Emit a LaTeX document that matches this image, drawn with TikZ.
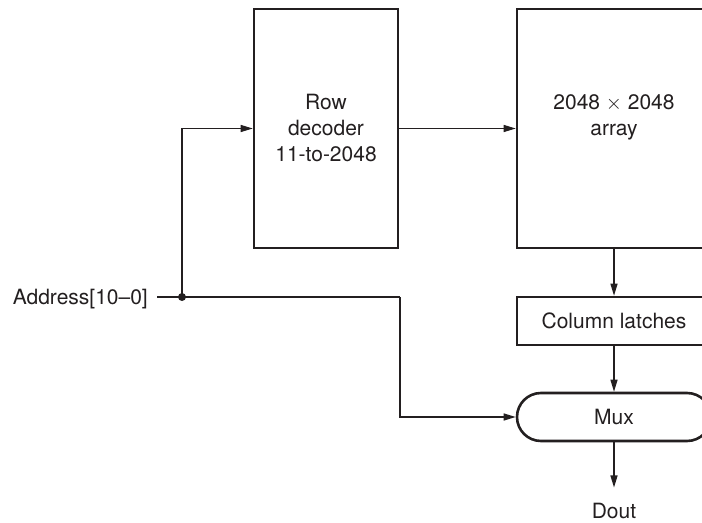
\documentclass[tikz,border=0pt]{standalone}
\usepackage{fontspec}
\setmainfont{TeX Gyre Heros}
\usetikzlibrary{arrows.meta}
\definecolor{ink}{RGB}{35,31,32}
\tikzset{
  blk/.style={draw=ink, line width=2.6bp, text=ink, align=center, inner sep=0pt,
    font=\fontsize{21bp}{26bp}\selectfont},
  conn/.style={draw=ink, line width=1.2bp, -{Triangle[length=12bp,width=7bp]}},
  lbl/.style={text=ink, font=\fontsize{21bp}{26bp}\selectfont},
}
\begin{document}
\begin{tikzpicture}[x=1bp,y=-1bp]
\path[use as bounding box, clip] (0,0) rectangle (702,523);
\fill[white] (0,0) rectangle (702,523);

\node[blk, minimum width=144bp, minimum height=239bp] (dec) at (326,128.5) {Row\\decoder\\11-to-2048};
\node[blk, minimum width=194bp, minimum height=239bp] (arr) at (614,128.5) {2048 $\times$ 2048\\array\\\phantom{1}};
\node[blk, minimum width=194bp, minimum height=48bp] (col) at (614,321) {Column latches};
\node[blk, minimum width=194bp, minimum height=48bp, rounded corners=24bp] (mux) at (614,417) {Mux};

\node[lbl, anchor=base east, inner xsep=9bp, inner ysep=0pt] (addr) at (157,304) {Address[10–0]};
\node[lbl, anchor=base, inner ysep=15bp] (dout) at (614,518) {Dout};

\coordinate (j) at (182,297);
\coordinate (k) at (400,297);

\draw[draw=ink, line width=1.2bp] (addr.east |- j) -- (j) -- (k);
\draw[conn] (j) |- (dec.west);
\draw[conn] (dec.east) -- (arr.west);
\draw[conn] (arr.south) -- (col.north);
\draw[conn] (col.south) -- (mux.north);
\draw[conn] (k) |- (mux.west);
\draw[conn] (mux.south) -- (dout.north);
\fill[ink] (j) circle (4bp);
\end{tikzpicture}
\end{document}
